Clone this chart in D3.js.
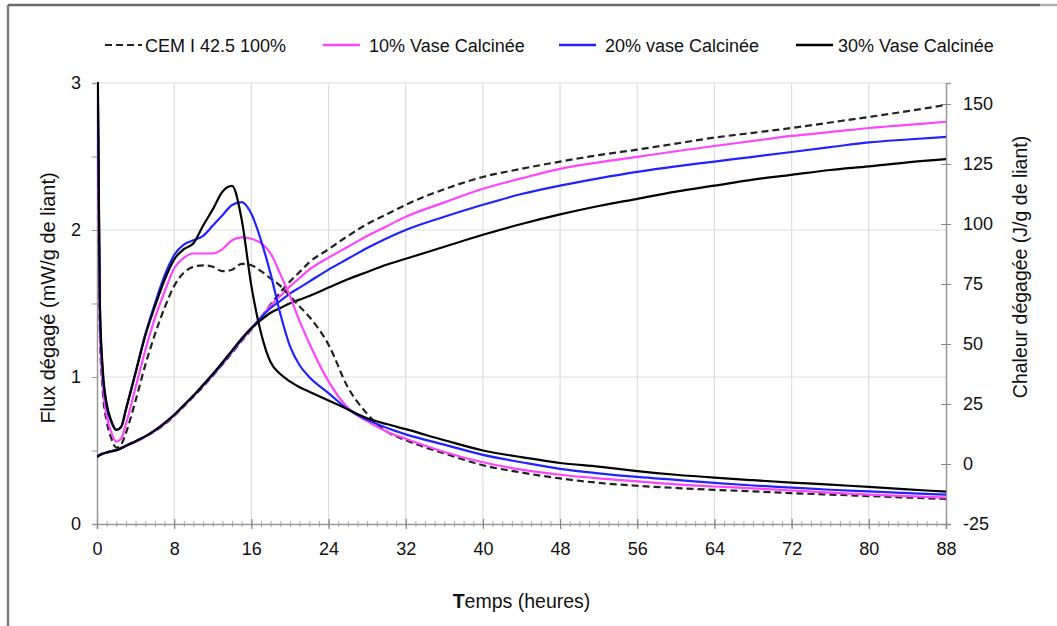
<!DOCTYPE html>
<html>
<head>
<meta charset="utf-8">
<script src="https://cdn.jsdelivr.net/npm/d3@7"></script>
<style>
  html, body { margin: 0; padding: 0; background: #fff; }
  svg { display: block; font-family: "Liberation Sans", Arial, sans-serif; }
</style>
</head>
<body>
<svg id="chart" width="1057" height="626"></svg>
<script>
// ---------- DATA ----------
const times = [0, 0.15, 0.3, 0.6, 1, 1.5, 2, 2.5, 3, 4, 5, 6, 7, 8, 9, 10, 11, 12, 13, 14, 15, 16, 17, 18, 19, 20, 21, 22, 24, 26, 28, 30, 32, 36, 40, 44, 48, 52, 56, 60, 64, 68, 72, 76, 80, 84, 88];

const seriesNames = ["CEM I 42.5 100%", "10% Vase Calcinée", "20% vase Calcinée", "30% Vase Calcinée"];

// Flux (mW/g de liant) - left axis
const fluxCEM = [3.6, 2.3, 1.3, 0.9, 0.70, 0.58, 0.52, 0.54, 0.62, 0.84, 1.08, 1.29, 1.47, 1.62, 1.71, 1.75, 1.76, 1.75, 1.72, 1.73, 1.77, 1.76, 1.72, 1.67, 1.62, 1.55, 1.48, 1.41, 1.22, 0.93, 0.75, 0.63, 0.57, 0.48, 0.40, 0.35, 0.31, 0.28, 0.26, 0.245, 0.232, 0.222, 0.21, 0.20, 0.19, 0.18, 0.17];
const flux10  = [3.6, 2.4, 1.35, 0.95, 0.74, 0.62, 0.56, 0.58, 0.68, 0.93, 1.18, 1.40, 1.58, 1.74, 1.81, 1.84, 1.84, 1.84, 1.87, 1.93, 1.95, 1.94, 1.91, 1.84, 1.70, 1.55, 1.38, 1.23, 0.97, 0.79, 0.70, 0.63, 0.58, 0.49, 0.42, 0.37, 0.335, 0.31, 0.29, 0.27, 0.255, 0.243, 0.228, 0.213, 0.20, 0.19, 0.18];
const flux20  = [3.6, 2.5, 1.45, 1.02, 0.80, 0.69, 0.64, 0.66, 0.78, 1.03, 1.29, 1.50, 1.69, 1.83, 1.90, 1.93, 1.96, 2.03, 2.10, 2.17, 2.19, 2.11, 1.93, 1.70, 1.43, 1.21, 1.08, 1.00, 0.89, 0.78, 0.71, 0.655, 0.61, 0.54, 0.47, 0.42, 0.375, 0.345, 0.32, 0.30, 0.28, 0.262, 0.248, 0.233, 0.222, 0.21, 0.20];
const flux30  = [3.6, 2.6, 1.5, 1.05, 0.82, 0.70, 0.64, 0.66, 0.78, 1.03, 1.28, 1.48, 1.66, 1.80, 1.87, 1.91, 2.03, 2.14, 2.26, 2.30, 2.07, 1.62, 1.30, 1.10, 1.02, 0.97, 0.93, 0.90, 0.84, 0.78, 0.72, 0.68, 0.645, 0.57, 0.50, 0.455, 0.415, 0.39, 0.36, 0.335, 0.315, 0.298, 0.282, 0.268, 0.252, 0.236, 0.22];

// Chaleur (J/g de liant) - right axis
const heatCEM = [3, 3.4, 3.8, 4.3, 4.8, 5.3, 5.8, 6.6, 7.5, 9.3, 11.3, 13.7, 16.5, 20, 24, 28, 32.3, 36.8, 41.5, 46.3, 51.3, 56, 61, 66.5, 71.5, 76, 80, 84, 89.5, 95, 100, 104, 108, 114.5, 119.6, 123, 126, 128.7, 131, 133.5, 136, 138, 140, 142.3, 144.6, 147, 149.6];
const heat10  = [3, 3.4, 3.8, 4.3, 4.8, 5.3, 5.8, 6.6, 7.5, 9.3, 11.4, 13.8, 16.7, 20.2, 24.3, 28.3, 32.6, 37, 41.8, 46.7, 51.6, 56.3, 61, 66, 70, 74, 77.5, 81, 86, 90.5, 95, 99, 103, 109, 114.7, 119, 123, 125.7, 128, 130.3, 132.5, 134.6, 136.7, 138.3, 140, 141.3, 142.6];
const heat20  = [3, 3.4, 3.8, 4.3, 4.8, 5.3, 5.8, 6.6, 7.6, 9.5, 11.5, 14, 17, 20.5, 24.5, 28.5, 32.8, 37.2, 42, 47, 52, 56.6, 61, 65, 68, 71, 73.5, 76, 81, 85.5, 90, 94, 97.5, 103, 108, 112.5, 116, 119, 121.7, 124, 126, 128, 130, 132, 134, 135.2, 136.3];
const heat30  = [3, 3.4, 3.8, 4.3, 4.8, 5.3, 5.8, 6.6, 7.6, 9.5, 11.5, 14, 17, 20.5, 24.5, 28.5, 33, 37.5, 42.3, 47.3, 52.3, 56.6, 60, 63, 65, 67, 68.5, 70, 73.5, 77, 80, 83, 85.5, 90.5, 95.5, 100, 104, 107.5, 110.5, 113.5, 116, 118.5, 120.5, 122.5, 124, 125.7, 127];

// Tick labels
const xTickLabels = [0, 8, 16, 24, 32, 40, 48, 56, 64, 72, 80, 88];
const xMinorTicks = d3.range(0, 89, 1);
const leftTickLabels = [0, 1, 2, 3];
const leftMinorTicks = [0, 0.5, 1, 1.5, 2, 2.5, 3];
const rightTickLabels = [-25, 0, 25, 50, 75, 100, 125, 150];

// ---------- STYLE ----------
const colors = ["#222222", "#ff44ff", "#2222ff", "#000000"];
const dashes = ["7,4", null, null, null];

// ---------- CHART ----------
const svg = d3.select("#chart");
const W = 1057, H = 626;
const pLeft = 97, pRight = 946, pTop = 83, pBottom = 524;
const fmt = d => String(d);

const x = d3.scaleLinear().domain([0, 88]).range([pLeft, pRight]);
const yL = d3.scaleLinear().domain([0, 3]).range([pBottom, pTop]);
const yR = d3.scaleLinear().domain([-25, 158.75]).range([pBottom, pTop]);

// outer frame
svg.append("line").attr("x1", 8).attr("y1", 5).attr("x2", 8).attr("y2", H)
  .attr("stroke", "#808080").attr("stroke-width", 2.5);
svg.append("line").attr("x1", 8).attr("y1", 5).attr("x2", 1040).attr("y2", 5)
  .attr("stroke", "#6a6a6a").attr("stroke-width", 2.5);
svg.append("line").attr("x1", 1040).attr("y1", 5).attr("x2", W).attr("y2", 5)
  .attr("stroke", "#b0b0b0").attr("stroke-width", 2.5);

// gridlines
const grid = svg.append("g").attr("stroke", "#dcdcdc").attr("stroke-width", 1.2);
xTickLabels.filter(d => d > 0 && d < 88).forEach(d => {
  grid.append("line").attr("x1", x(d)).attr("x2", x(d)).attr("y1", pTop).attr("y2", pBottom);
});
leftTickLabels.filter(d => d > 0).forEach(d => {
  grid.append("line").attr("x1", pLeft).attr("x2", pRight).attr("y1", yL(d)).attr("y2", yL(d));
});

const tickFont = "18px";

// X axis: minor ticks (crossing)
const xMinor = svg.append("g").attr("transform", `translate(0,${pBottom - 3})`)
  .call(d3.axisBottom(x).tickValues(xMinorTicks).tickSize(6).tickFormat(""));
xMinor.select(".domain").remove();
xMinor.selectAll("line").attr("stroke", "#aaa").attr("stroke-width", 1);
// X axis: major ticks + labels
const xMajor = svg.append("g").attr("transform", `translate(0,${pBottom})`)
  .call(d3.axisBottom(x).tickValues(xTickLabels).tickSize(5).tickPadding(13).tickFormat(fmt));
xMajor.select(".domain").attr("stroke", "#999").attr("stroke-width", 1.5);
xMajor.selectAll("line").attr("stroke", "#888").attr("stroke-width", 1.2).attr("y1", -5);
xMajor.selectAll("text").attr("font-size", tickFont).attr("fill", "#111")
  .attr("font-family", "Liberation Sans, Arial, sans-serif");

// Left axis
const yLeftMinor = svg.append("g").attr("transform", `translate(${pLeft},0)`)
  .call(d3.axisLeft(yL).tickValues(leftMinorTicks).tickSize(5).tickFormat(""));
yLeftMinor.select(".domain").attr("stroke", "#999").attr("stroke-width", 1.5);
yLeftMinor.selectAll("line").attr("stroke", "#999");
const yLeft = svg.append("g").attr("transform", `translate(${pLeft},0)`)
  .call(d3.axisLeft(yL).tickValues(leftTickLabels).tickSize(0).tickPadding(16).tickFormat(fmt));
yLeft.select(".domain").remove();
yLeft.selectAll("text").attr("font-size", tickFont).attr("fill", "#111")
  .attr("font-family", "Liberation Sans, Arial, sans-serif");

// Right axis
const yRight = svg.append("g").attr("transform", `translate(${pRight},0)`)
  .call(d3.axisRight(yR).tickValues(rightTickLabels).tickSize(5).tickPadding(12).tickFormat(fmt));
yRight.select(".domain").attr("stroke", "#999").attr("stroke-width", 1.5);
yRight.selectAll("line").attr("stroke", "#888").attr("x1", -5);
yRight.selectAll("text").attr("font-size", tickFont).attr("fill", "#111")
  .attr("font-family", "Liberation Sans, Arial, sans-serif");

// clip
svg.append("defs").append("clipPath").attr("id", "plotClip")
  .append("rect").attr("x", pLeft).attr("y", pTop - 1).attr("width", pRight - pLeft).attr("height", pBottom - pTop + 1);

const fluxSeries = [fluxCEM, flux10, flux20, flux30];
const heatSeries = [heatCEM, heat10, heat20, heat30];

const lineL = d3.line().x((d, i) => x(times[i])).y(d => yL(d)).curve(d3.curveMonotoneX);
const lineR = d3.line().x((d, i) => x(times[i])).y(d => yR(d)).curve(d3.curveMonotoneX);

const plot = svg.append("g").attr("clip-path", "url(#plotClip)");
[0, 1, 2, 3].forEach(k => {
  plot.append("path").datum(heatSeries[k]).attr("d", lineR)
    .attr("fill", "none").attr("stroke", colors[k]).attr("stroke-width", 2.2)
    .attr("stroke-dasharray", dashes[k]);
});
[0, 1, 2, 3].forEach(k => {
  plot.append("path").datum(fluxSeries[k]).attr("d", lineL)
    .attr("fill", "none").attr("stroke", colors[k]).attr("stroke-width", 2.2)
    .attr("stroke-dasharray", dashes[k]);
});

// Legend
const legendX = [105, 323, 559, 796];
const legendTextX = [145, 369, 605, 838];
const legendY = 45;
seriesNames.forEach((name, k) => {
  svg.append("line").attr("x1", legendX[k]).attr("x2", legendX[k] + 37)
    .attr("y1", legendY).attr("y2", legendY)
    .attr("stroke", colors[k]).attr("stroke-width", k === 0 ? 2 : 2.5)
    .attr("stroke-dasharray", dashes[k]);
  svg.append("text").attr("x", legendTextX[k]).attr("y", legendY + 6.5)
    .attr("font-size", "18px").attr("fill", "#111").text(name);
});

// Axis titles
const xt = svg.append("text").attr("x", (pLeft + pRight) / 2).attr("y", 608)
  .attr("text-anchor", "middle").attr("font-size", "19.5px").attr("fill", "#111");
xt.append("tspan").attr("font-weight", "bold").text("T");
xt.append("tspan").text("emps (heures)");

svg.append("text").attr("transform", "translate(55,298) rotate(-90)")
  .attr("text-anchor", "middle").attr("font-size", "20px").attr("fill", "#111")
  .text("Flux dégagé (mW/g de liant)");
svg.append("text").attr("transform", "translate(1027,267) rotate(-90)")
  .attr("text-anchor", "middle").attr("font-size", "19.5px").attr("fill", "#111")
  .text("Chaleur dégagée (J/g de liant)");
</script>
</body>
</html>
